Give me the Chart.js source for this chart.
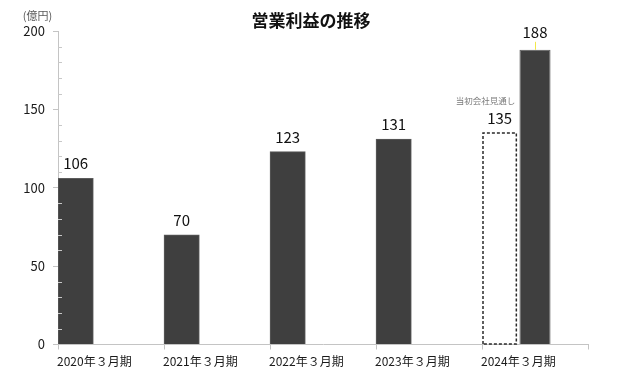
<!DOCTYPE html>
<html lang="ja">
<head>
<meta charset="utf-8">
<script src="https://cdn.jsdelivr.net/npm/chart.js@4/dist/chart.umd.min.js"></script>
<style>
  html, body { margin: 0; padding: 0; background: #ffffff; }
  #wrap { width: 624px; height: 386px; position: relative; }
</style>
</head>
<body>
<div id="wrap"><canvas id="c" width="624" height="386"></canvas></div>
<script>
// ---- data ----
const chartTitle = '営業利益の推移';
const unitLabel = '(億円)';
const categories = ['2020年３月期', '2021年３月期', '2022年３月期', '2023年３月期', '2024年３月期'];
const operatingProfit = [106, 70, 123, 131, 188];
const initialForecast2024 = 135;
const forecastLabel = '当初会社見通し';
const yTickValues = [0, 50, 100, 150, 200];
const yMinorStep = 10;

// slot 1: actuals (2020-2023) + initial forecast for 2024; slot 2: 2024 actual; slot 3: spacing
const lastIdx = categories.length - 1;
const slot1 = operatingProfit.map((v, i) => (i === lastIdx ? initialForecast2024 : v));
const slot2 = operatingProfit.map((v, i) => (i === lastIdx ? v : null));
const slot3 = categories.map(() => null);

const FONT = "'Noto Sans CJK JP', 'Noto Sans', sans-serif";
Chart.defaults.font.family = FONT;

const BAR_FILL = '#3f3f3f';
const BAR_EDGE = '#5c5c5c';

const decorPlugin = {
  id: 'decor',
  afterDatasetsDraw(chart) {
    const ctx = chart.ctx;
    const y = chart.scales.y;
    ctx.save();
    // minor ticks on the y axis (inside)
    ctx.strokeStyle = '#c8c8c8';
    ctx.lineWidth = 1;
    for (let v = y.min + yMinorStep; v < y.max; v += yMinorStep) {
      if (yTickValues.includes(v)) continue;
      const py = Math.round(y.getPixelForValue(v)) + 0.5;
      ctx.beginPath();
      ctx.moveTo(y.right, py);
      ctx.lineTo(y.right + 4, py);
      ctx.stroke();
    }
    // dashed forecast bar
    const m1 = chart.getDatasetMeta(0);
    const fe = m1.data[lastIdx];
    if (fe) {
      const left = fe.x - fe.width / 2 + 1;
      const right = fe.x + fe.width / 2 - 1;
      ctx.setLineDash([3, 2]);
      ctx.strokeStyle = '#2a2a2a';
      ctx.lineWidth = 1.5;
      ctx.beginPath();
      ctx.moveTo(left, fe.base);
      ctx.lineTo(left, fe.y);
      ctx.lineTo(right, fe.y);
      ctx.lineTo(right, fe.base);
      ctx.closePath();
      ctx.stroke();
      ctx.setLineDash([]);
      // annotation
      ctx.fillStyle = '#7a7a7a';
      ctx.font = '8.5px ' + FONT;
      ctx.textAlign = 'right';
      ctx.textBaseline = 'middle';
      ctx.fillText(forecastLabel, right - 1, fe.y - 32);
    }
    // value labels
    ctx.fillStyle = '#111111';
    ctx.font = '15px ' + FONT;
    ctx.textAlign = 'center';
    ctx.textBaseline = 'alphabetic';
    chart.data.datasets.forEach((ds, di) => {
      const meta = chart.getDatasetMeta(di);
      meta.data.forEach((el, i) => {
        const v = ds.data[i];
        if (v === null || v === undefined) return;
        const gap = di === 1 ? 12 : 9;
        ctx.fillText(String(v), el.x, el.y - gap);
        if (di === 1) {
          ctx.strokeStyle = '#f2e84a';
          ctx.lineWidth = 1;
          ctx.beginPath();
          ctx.moveTo(el.x + 0.5, el.y - gap + 4);
          ctx.lineTo(el.x + 0.5, el.y);
          ctx.stroke();
        }
      });
    });
    ctx.restore();
  },
  afterDraw(chart) {
    const ctx = chart.ctx;
    ctx.save();
    ctx.fillStyle = '#111111';
    ctx.font = 'bold 17px ' + FONT;
    ctx.textAlign = 'center';
    ctx.textBaseline = 'middle';
    ctx.fillText(chartTitle, 311, 21);
    ctx.fillStyle = '#595959';
    ctx.font = '11px ' + FONT;
    ctx.fillText(unitLabel, 37.5, 16);
    ctx.restore();
  }
};

new Chart(document.getElementById('c'), {
  type: 'bar',
  data: {
    labels: categories,
    datasets: [
      {
        label: '営業利益',
        data: slot1,
        backgroundColor: (c) => (c.dataIndex === lastIdx ? 'rgba(255,255,255,0)' : BAR_FILL),
        borderColor: (c) => (c.dataIndex === lastIdx ? 'rgba(255,255,255,0)' : BAR_EDGE),
        borderWidth: 1,
        barPercentage: 1,
        categoryPercentage: 1
      },
      {
        label: '2024年３月期 実績',
        data: slot2,
        backgroundColor: BAR_FILL,
        borderColor: BAR_EDGE,
        borderWidth: 1,
        barPercentage: 0.88,
        categoryPercentage: 1
      },
      {
        label: '',
        data: slot3,
        backgroundColor: BAR_FILL,
        barPercentage: 1,
        categoryPercentage: 1
      }
    ]
  },
  options: {
    responsive: false,
    animation: false,
    layout: { padding: { left: 0, right: 36, top: 31, bottom: 0 } },
    plugins: {
      legend: { display: false },
      tooltip: { enabled: false },
      title: { display: false }
    },
    scales: {
      x: {
        grid: { display: true, drawOnChartArea: false, offset: true, tickLength: 5, color: '#c4c4c4' },
        border: { color: '#c4c4c4', width: 1 },
        ticks: {
          align: 'start',
          labelOffset: -54,
          padding: 5,
          color: '#1a1a1a',
          font: { size: 12 },
          maxRotation: 0,
          autoSkip: false
        },
        afterFit(s) { s.height = 41.5; }
      },
      y: {
        min: 0,
        max: 200,
        grid: { display: true, drawOnChartArea: false, tickLength: 5, color: '#c4c4c4' },
        border: { color: '#c4c4c4', width: 1 },
        ticks: {
          stepSize: 50,
          padding: 8,
          color: '#1a1a1a',
          font: { size: 13 },
          callback: (v) => (yTickValues.includes(v) ? String(v) : '')
        },
        afterFit(s) { s.width = 58; }
      }
    }
  },
  plugins: [decorPlugin]
});
</script>
</body>
</html>
